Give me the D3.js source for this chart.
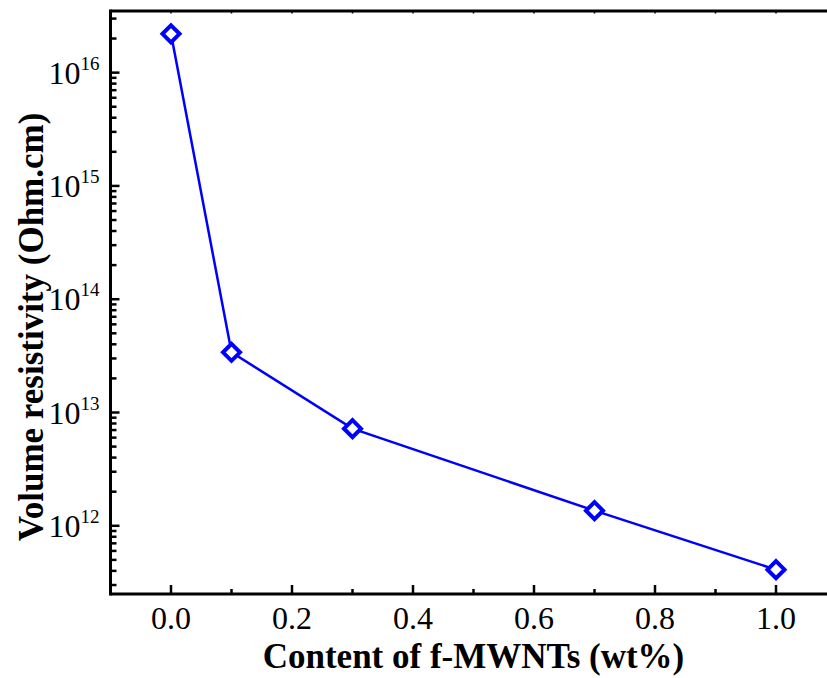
<!DOCTYPE html>
<html>
<head>
<meta charset="utf-8">
<script src="https://cdn.jsdelivr.net/npm/d3@7"></script>
<style>
  body { margin: 0; background: #fff; }
  text { font-family: "Liberation Serif", "Times New Roman", serif; fill: #000; }
</style>
</head>
<body>
<div id="chart"></div>
<script>
// data
const content = [0.0, 0.1, 0.3, 0.7, 1.0];
const resistivity = [2.2e16, 3.4e13, 7.2e12, 1.36e12, 4.1e11];
const xTicks = [0.0, 0.2, 0.4, 0.6, 0.8, 1.0];
const yDecades = [12, 13, 14, 15, 16];

const W = 827, H = 678;
const margin = {top: 11, right: -9.5, bottom: 84, left: 110.5};

const svg = d3.select("#chart").append("svg")
    .attr("width", W)
    .attr("height", H);

const x = d3.scaleLinear()
    .domain([-0.1, 1.1])
    .range([margin.left, W - margin.right]);

const y = d3.scaleLog()
    .domain([2.5e11, 3.5e16])
    .range([H - margin.bottom, margin.top]);

const x0 = margin.left, x1 = W - margin.right;
const y0 = H - margin.bottom, y1 = margin.top;

// minor ticks for the log axis
let yMinor = [];
for (let e = 11; e <= 16; e++) {
    for (let m = 2; m <= 9; m++) {
        let v = m * Math.pow(10, e);
        if (v > y.domain()[0] && v < y.domain()[1]) yMinor.push(v);
    }
}
let xMinor = d3.range(-0.1, 1.11, 0.2).map(d => +d.toFixed(1)).filter(d => d > -0.1);

const axes = svg.append("g").attr("stroke", "#000");

// bottom ticks (inward)
axes.selectAll(".xmaj").data(xTicks).enter().append("line")
    .attr("x1", d => x(d)).attr("x2", d => x(d))
    .attr("y1", y0).attr("y2", y0 - 9)
    .attr("stroke-width", 2.5);
axes.selectAll(".xmin").data(xMinor).enter().append("line")
    .attr("x1", d => x(d)).attr("x2", d => x(d))
    .attr("y1", y0).attr("y2", y0 - 5)
    .attr("stroke-width", 2.5);

// top ticks (tiny)
axes.selectAll(".xtop").data(xTicks.concat(xMinor)).enter().append("line")
    .attr("x1", d => x(d)).attr("x2", d => x(d))
    .attr("y1", y1).attr("y2", y1 + 2.5)
    .attr("stroke-width", 1.5);

// left ticks
axes.selectAll(".ymaj").data(yDecades).enter().append("line")
    .attr("x1", x0).attr("x2", x0 + 9)
    .attr("y1", d => y(Math.pow(10, d))).attr("y2", d => y(Math.pow(10, d)))
    .attr("stroke-width", 2.5);
axes.selectAll(".ymin").data(yMinor).enter().append("line")
    .attr("x1", x0).attr("x2", x0 + 6)
    .attr("y1", d => y(d)).attr("y2", d => y(d))
    .attr("stroke-width", 2.5);

// frame lines
axes.append("line").attr("x1", x0).attr("x2", x1).attr("y1", y0).attr("y2", y0).attr("stroke-width", 3);
axes.append("line").attr("x1", x0).attr("x2", x1).attr("y1", y1).attr("y2", y1).attr("stroke-width", 3);
axes.append("line").attr("x1", x0).attr("x2", x0).attr("y1", y1 - 1.5).attr("y2", y0 + 1.5).attr("stroke-width", 3);

// tick labels
svg.selectAll(".xlab").data(xTicks).enter().append("text")
    .attr("x", d => x(d))
    .attr("y", y0 + 35)
    .attr("text-anchor", "middle")
    .attr("font-size", 32)
    .text(d => d.toFixed(1));

const ylab = svg.selectAll(".ylab").data(yDecades).enter().append("text")
    .attr("x", x0 - 11)
    .attr("y", d => y(Math.pow(10, d)) + 11)
    .attr("text-anchor", "end")
    .attr("font-size", 32);
ylab.append("tspan").text("10");
ylab.append("tspan").attr("dy", -14).attr("font-size", 19).text(d => d);

// axis titles
svg.append("text")
    .attr("x", (x0 + x1) / 2)
    .attr("y", 668)
    .attr("text-anchor", "middle")
    .attr("font-size", 35)
    .attr("font-weight", "bold")
    .text("Content of f-MWNTs (wt%)");

svg.append("text")
    .attr("transform", "translate(43,327) rotate(-90)")
    .attr("text-anchor", "middle")
    .attr("font-size", 35)
    .attr("font-weight", "bold")
    .text("Volume resistivity (Ohm.cm)");

// series
const pts = content.map((c, i) => ({c: c, r: resistivity[i]}));

svg.append("path")
    .datum(pts)
    .attr("fill", "none")
    .attr("stroke", "#0000ff")
    .attr("stroke-width", 2.5)
    .attr("d", d3.line().x(d => x(d.c)).y(d => y(d.r)));

const s = 8.5;
svg.selectAll(".pt").data(pts).enter().append("path")
    .attr("transform", d => `translate(${x(d.c)},${y(d.r)})`)
    .attr("d", `M0,${-s}L${s},0L0,${s}L${-s},0Z`)
    .attr("fill", "#fff")
    .attr("stroke", "#0000ff")
    .attr("stroke-width", 4);
</script>
</body>
</html>
